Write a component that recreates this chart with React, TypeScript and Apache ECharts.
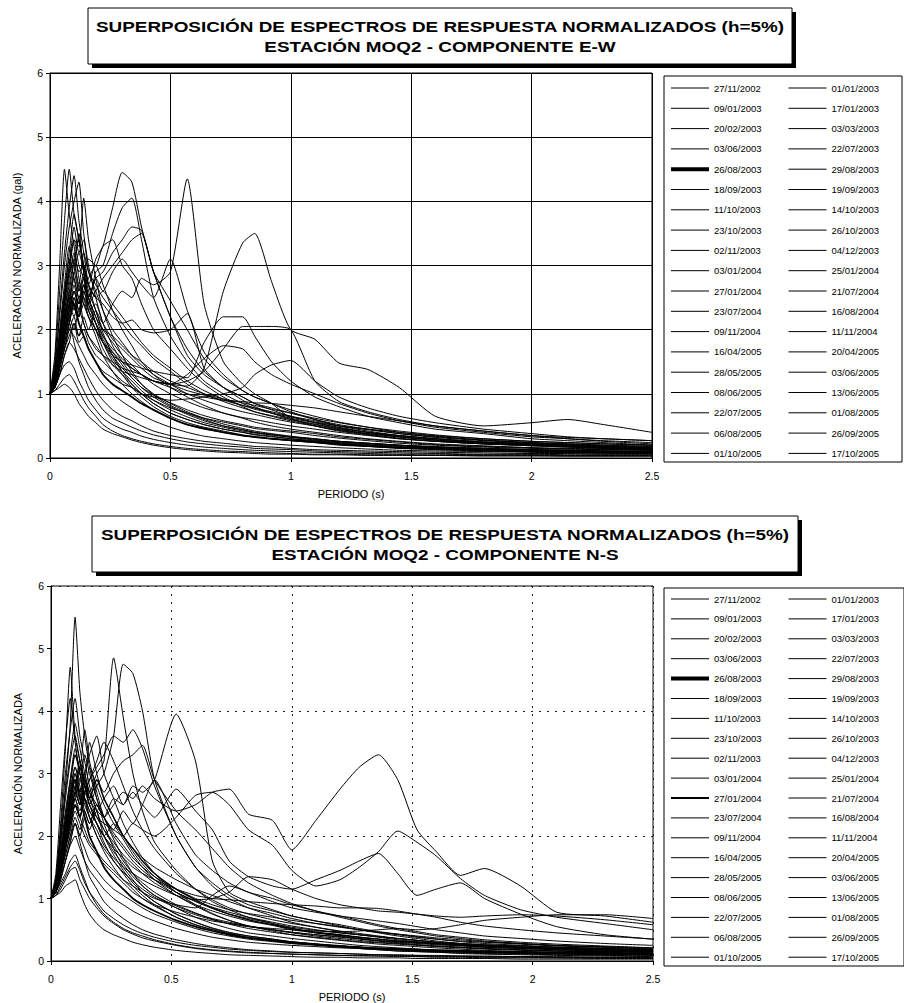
import React, { useEffect, useRef } from "react";
import * as echarts from "echarts";

const TITLE_LINE_1 = "SUPERPOSICIÓN DE ESPECTROS DE RESPUESTA NORMALIZADOS (h=5%)";
const TITLE_EW = "ESTACIÓN MOQ2 - COMPONENTE E-W";
const TITLE_NS = "ESTACIÓN MOQ2 - COMPONENTE N-S";
const X_NAME = "PERIODO (s)";
const Y_NAME_EW = "ACELERACIÓN NORMALIZADA (gal)";
const Y_NAME_NS = "ACELERACIÓN NORMALIZADA";
const X_TICKS = [0, 0.5, 1, 1.5, 2, 2.5];
const Y_TICKS = [0, 1, 2, 3, 4, 5, 6];

const DATES = [
  "27/11/2002", "01/01/2003", "09/01/2003", "17/01/2003", "20/02/2003", "03/03/2003",
  "03/06/2003", "22/07/2003", "26/08/2003", "29/08/2003", "18/09/2003", "19/09/2003",
  "11/10/2003", "14/10/2003", "23/10/2003", "26/10/2003", "02/11/2003", "04/12/2003",
  "03/01/2004", "25/01/2004", "27/01/2004", "21/07/2004", "23/07/2004", "16/08/2004",
  "09/11/2004", "11/11/2004", "16/04/2005", "20/04/2005", "28/05/2005", "03/06/2005",
  "08/06/2005", "13/06/2005", "22/07/2005", "01/08/2005", "06/08/2005", "26/09/2005",
  "01/10/2005", "17/10/2005",
];

// ---------- E-W component ----------
const PERIODS_EW = [0, 0.02, 0.04, 0.06, 0.08, 0.1, 0.12, 0.14, 0.16, 0.19, 0.22, 0.26, 0.3, 0.34, 0.38, 0.43, 0.5, 0.57, 0.64, 0.72, 0.8, 0.85, 0.92, 1.0, 1.1, 1.2, 1.32, 1.45, 1.6, 1.8, 2.0, 2.15, 2.3, 2.5];

const EW01 = [1, 1.3, 1.9, 2.4, 2.9, 3.1, 2.6, 2.8, 2.3, 2.0, 1.7, 1.45, 1.3, 1.1, 0.95, 0.8, 0.65, 0.55, 0.48, 0.42, 0.36, 0.33, 0.3, 0.27, 0.24, 0.2, 0.18, 0.15, 0.13, 0.11, 0.1, 0.09, 0.08, 0.07];
const EW02 = [1, 1.5, 2.6, 3.7, 4.5, 3.8, 3.4, 2.9, 2.5, 2.1, 1.8, 1.5, 1.3, 1.15, 1.0, 0.85, 0.7, 0.6, 0.52, 0.45, 0.4, 0.37, 0.34, 0.3, 0.27, 0.24, 0.21, 0.18, 0.16, 0.14, 0.12, 0.11, 0.1, 0.09];
const EW03 = [1, 1.2, 1.6, 1.9, 2.2, 2.6, 2.4, 2.8, 2.7, 3.1, 3.3, 3.9, 4.45, 4.3, 3.6, 2.9, 2.2, 1.7, 1.35, 1.1, 0.9, 0.8, 0.7, 0.62, 0.55, 0.48, 0.4, 0.35, 0.3, 0.25, 0.22, 0.2, 0.18, 0.16];
const EW04 = [1, 1.1, 1.4, 1.8, 2.1, 2.5, 2.2, 2.6, 2.4, 2.9, 3.0, 3.5, 3.9, 4.05, 3.4, 2.5, 1.9, 1.5, 1.2, 1.0, 0.85, 0.78, 0.7, 0.6, 0.52, 0.45, 0.38, 0.33, 0.28, 0.23, 0.2, 0.18, 0.16, 0.14];
const EW05 = [1, 1.1, 1.3, 1.6, 1.8, 2.1, 1.9, 2.2, 2.0, 2.3, 2.1, 2.4, 2.6, 2.5, 2.8, 2.7, 2.9, 4.35, 2.4, 1.5, 1.15, 1.0, 0.85, 0.62, 0.5, 0.42, 0.36, 0.3, 0.26, 0.22, 0.2, 0.18, 0.16, 0.15];
const EW06 = [1, 1.2, 1.6, 2.0, 2.4, 2.2, 2.5, 2.1, 1.9, 1.7, 1.6, 1.45, 1.35, 1.3, 1.25, 1.2, 1.15, 1.12, 1.4, 2.6, 3.35, 3.5, 2.75, 2.0, 1.85, 1.48, 1.38, 1.1, 0.65, 0.5, 0.55, 0.6, 0.52, 0.4];
const EW07 = [1, 1.2, 1.5, 1.9, 2.3, 2.6, 2.3, 2.7, 2.5, 2.8, 2.6, 2.9, 3.1, 2.9, 2.7, 2.5, 3.1, 2.3, 1.65, 1.3, 1.05, 0.95, 0.85, 0.72, 0.6, 0.5, 0.42, 0.35, 0.3, 0.25, 0.22, 0.2, 0.18, 0.16];
const EW08 = [1, 1.2, 1.7, 2.1, 2.6, 2.3, 2.7, 2.4, 2.2, 2.0, 1.8, 1.6, 1.5, 1.45, 1.4, 1.35, 1.3, 1.25, 1.8, 2.2, 2.2, 1.9, 1.5, 1.2, 0.95, 0.8, 0.65, 0.55, 0.45, 0.38, 0.3, 0.27, 0.24, 0.2];
const EW09 = [1, 1.2, 1.7, 2.2, 2.5, 2.4, 2.1, 1.9, 1.7, 1.5, 1.3, 1.15, 1.05, 0.95, 0.85, 0.75, 0.62, 0.52, 0.46, 0.4, 0.35, 0.33, 0.3, 0.28, 0.25, 0.22, 0.19, 0.16, 0.14, 0.12, 0.1, 0.09, 0.08, 0.08];
const EW10 = [1, 1.1, 1.4, 1.7, 1.9, 2.1, 1.8, 1.9, 1.7, 1.5, 1.35, 1.25, 1.15, 1.1, 1.0, 0.95, 0.9, 0.92, 0.95, 1.0, 1.1, 1.3, 1.45, 1.52, 1.2, 0.95, 0.78, 0.65, 0.55, 0.45, 0.38, 0.33, 0.3, 0.27];
const EW11 = [1, 1.2, 1.6, 2.0, 2.4, 2.8, 2.5, 2.6, 2.3, 2.1, 1.9, 1.7, 1.55, 1.4, 1.3, 1.2, 1.15, 1.3, 1.55, 1.75, 1.7, 1.5, 1.3, 1.15, 1.0, 0.85, 0.7, 0.58, 0.48, 0.4, 0.33, 0.3, 0.26, 0.22];
const EW12 = [1, 1.3, 1.8, 2.3, 2.8, 3.2, 2.9, 3.0, 2.7, 2.5, 2.4, 2.2, 2.1, 2.15, 2.0, 1.95, 2.0, 2.25, 1.4, 1.1, 0.95, 0.85, 0.75, 0.65, 0.55, 0.47, 0.4, 0.33, 0.28, 0.23, 0.2, 0.18, 0.16, 0.14];
const EW13 = [1, 1.2, 1.6, 1.9, 2.3, 2.6, 2.4, 2.7, 2.5, 2.8, 2.9, 3.2, 3.4, 3.6, 3.55, 2.9, 2.2, 1.6, 1.3, 1.1, 0.95, 0.85, 0.78, 0.7, 0.6, 0.52, 0.45, 0.38, 0.32, 0.27, 0.23, 0.21, 0.19, 0.17];
const EW14 = [1, 1.2, 1.7, 2.1, 2.5, 2.9, 2.6, 2.9, 3.1, 3.0, 3.3, 3.4, 3.0, 2.8, 2.4, 2.0, 1.7, 1.4, 1.15, 0.95, 0.8, 0.72, 0.65, 0.58, 0.5, 0.43, 0.37, 0.31, 0.26, 0.22, 0.19, 0.17, 0.15, 0.13];
const EW15 = [1, 1.15, 1.5, 1.8, 2.1, 2.4, 2.2, 2.5, 2.4, 2.6, 2.8, 3.0, 3.2, 3.4, 3.5, 2.9, 2.45, 2.0, 1.55, 1.25, 1.05, 0.95, 0.85, 0.75, 0.65, 0.56, 0.48, 0.4, 0.34, 0.28, 0.24, 0.22, 0.2, 0.18];
const EW16 = [1, 1.4, 2.2, 3.0, 3.6, 4.0, 4.3, 3.5, 3.0, 2.5, 2.1, 1.75, 1.5, 1.3, 1.15, 1.0, 0.85, 0.72, 0.62, 0.53, 0.46, 0.42, 0.38, 0.34, 0.3, 0.26, 0.23, 0.2, 0.17, 0.15, 0.13, 0.12, 0.11, 0.1];
const EW17 = [1, 1.3, 1.9, 2.5, 3.0, 3.4, 3.3, 4.05, 3.4, 2.8, 2.3, 1.9, 1.6, 1.35, 1.15, 0.98, 0.82, 0.7, 0.6, 0.5, 0.44, 0.4, 0.36, 0.32, 0.28, 0.25, 0.22, 0.19, 0.16, 0.14, 0.12, 0.11, 0.1, 0.09];
const EW18 = [1, 1.4, 2.3, 3.2, 3.9, 4.4, 3.7, 3.2, 2.7, 2.3, 1.95, 1.6, 1.35, 1.15, 1.0, 0.85, 0.7, 0.6, 0.52, 0.45, 0.4, 0.36, 0.33, 0.3, 0.26, 0.23, 0.2, 0.17, 0.15, 0.13, 0.11, 0.1, 0.09, 0.08];
const EW19 = [1, 1.05, 1.1, 1.15, 1.1, 1.0, 0.85, 0.75, 0.65, 0.55, 0.45, 0.38, 0.33, 0.28, 0.24, 0.2, 0.16, 0.13, 0.11, 0.09, 0.08, 0.07, 0.06, 0.06, 0.05, 0.05, 0.04, 0.04, 0.04, 0.03, 0.03, 0.03, 0.03, 0.03];
const EW20 = [1, 1.1, 1.3, 1.45, 1.5, 1.4, 1.2, 1.05, 0.9, 0.75, 0.62, 0.52, 0.45, 0.4, 0.34, 0.29, 0.24, 0.2, 0.17, 0.15, 0.13, 0.12, 0.11, 0.1, 0.09, 0.08, 0.07, 0.06, 0.06, 0.05, 0.05, 0.04, 0.04, 0.04];
const EW21 = [1, 1.15, 1.5, 1.9, 2.2, 2.0, 2.3, 2.1, 1.9, 1.75, 1.6, 1.5, 1.4, 1.35, 1.3, 1.2, 1.15, 1.2, 1.35, 1.7, 2.05, 2.05, 2.05, 2.0, 1.2, 0.88, 0.72, 0.6, 0.5, 0.42, 0.35, 0.3, 0.27, 0.24];
const EW22 = [1, 1.2, 1.5, 1.9, 2.1, 1.8, 1.5, 1.3, 1.1, 0.9, 0.75, 0.62, 0.55, 0.48, 0.42, 0.36, 0.3, 0.25, 0.22, 0.19, 0.17, 0.15, 0.14, 0.13, 0.11, 0.1, 0.09, 0.08, 0.07, 0.06, 0.06, 0.05, 0.05, 0.05];
const EW23 = [1, 1.3, 2.0, 2.7, 3.3, 3.0, 3.5, 2.9, 2.5, 2.2, 1.9, 1.65, 1.45, 1.25, 1.1, 0.95, 0.8, 0.68, 0.58, 0.5, 0.44, 0.4, 0.37, 0.33, 0.3, 0.26, 0.23, 0.2, 0.18, 0.15, 0.13, 0.12, 0.11, 0.1];
const EW24 = [1, 1.2, 1.5, 1.9, 2.2, 2.5, 2.3, 2.6, 2.8, 3.0, 2.7, 2.3, 2.0, 1.75, 1.5, 1.3, 1.1, 0.95, 0.82, 0.7, 0.62, 0.56, 0.5, 0.45, 0.4, 0.35, 0.3, 0.26, 0.22, 0.19, 0.16, 0.15, 0.14, 0.12];
const EW25 = [1, 1.2, 1.6, 2.0, 2.3, 2.7, 2.4, 2.5, 2.3, 2.4, 2.1, 1.85, 1.7, 1.55, 1.4, 1.25, 1.15, 1.05, 0.98, 0.9, 0.82, 0.78, 0.72, 0.65, 0.58, 0.5, 0.45, 0.4, 0.35, 0.3, 0.26, 0.24, 0.22, 0.2];
const EW26 = [1, 1.3, 1.8, 2.5, 3.0, 3.6, 3.2, 3.4, 2.9, 2.6, 2.3, 2.0, 1.8, 1.6, 1.45, 1.3, 1.15, 1.0, 0.9, 0.8, 0.72, 0.68, 0.62, 0.56, 0.5, 0.44, 0.38, 0.33, 0.28, 0.24, 0.21, 0.19, 0.17, 0.15];
const EW27 = [1, 1.1, 1.4, 1.7, 2.0, 2.2, 1.9, 2.0, 1.8, 1.6, 1.5, 1.35, 1.2, 1.1, 1.0, 0.9, 0.78, 0.7, 0.62, 0.56, 0.5, 0.46, 0.43, 0.4, 0.35, 0.31, 0.27, 0.23, 0.2, 0.17, 0.15, 0.14, 0.13, 0.12];
const EW28 = [1, 1.6, 3.0, 4.5, 3.8, 3.3, 2.8, 2.5, 2.2, 1.9, 1.6, 1.35, 1.15, 1.0, 0.88, 0.75, 0.62, 0.52, 0.45, 0.4, 0.35, 0.32, 0.3, 0.27, 0.24, 0.21, 0.18, 0.16, 0.14, 0.12, 0.1, 0.09, 0.09, 0.08];
const EW29 = [1, 1.2, 1.7, 2.3, 2.7, 3.1, 3.4, 3.0, 2.6, 2.3, 2.0, 1.8, 1.6, 1.45, 1.3, 1.15, 1.0, 0.88, 0.78, 0.7, 0.63, 0.6, 0.55, 0.5, 0.45, 0.4, 0.35, 0.3, 0.26, 0.22, 0.19, 0.17, 0.15, 0.14];
const EW30 = [1, 1.1, 1.3, 1.6, 1.8, 1.7, 1.55, 1.4, 1.25, 1.05, 0.9, 0.75, 0.65, 0.58, 0.5, 0.42, 0.35, 0.3, 0.26, 0.23, 0.2, 0.18, 0.17, 0.15, 0.13, 0.12, 0.11, 0.1, 0.09, 0.08, 0.07, 0.07, 0.06, 0.06];
const EW31 = [1, 1.2, 1.6, 2.1, 2.6, 3.0, 2.7, 3.2, 2.9, 2.7, 2.5, 2.3, 2.1, 1.9, 1.75, 1.55, 1.35, 1.15, 1.0, 0.88, 0.78, 0.72, 0.66, 0.6, 0.53, 0.46, 0.4, 0.35, 0.3, 0.25, 0.22, 0.2, 0.18, 0.16];
const EW32 = [1, 1.3, 1.9, 2.6, 3.2, 3.8, 3.4, 3.0, 2.7, 2.5, 2.6, 2.4, 2.2, 2.0, 1.8, 1.6, 1.4, 1.2, 1.05, 0.92, 0.82, 0.76, 0.7, 0.64, 0.56, 0.5, 0.44, 0.38, 0.33, 0.28, 0.24, 0.22, 0.2, 0.18];
const EW33 = [1, 1.15, 1.4, 1.7, 2.0, 1.9, 1.75, 1.6, 1.45, 1.3, 1.15, 1.0, 0.88, 0.78, 0.68, 0.58, 0.48, 0.4, 0.34, 0.3, 0.26, 0.24, 0.22, 0.2, 0.18, 0.16, 0.14, 0.12, 0.11, 0.1, 0.09, 0.08, 0.08, 0.07];
const EW34 = [1, 1.2, 1.6, 2.0, 2.4, 2.9, 3.2, 2.9, 2.5, 2.2, 2.0, 1.9, 1.75, 1.6, 1.5, 1.35, 1.2, 1.1, 1.0, 0.92, 0.86, 0.82, 0.76, 0.7, 0.62, 0.55, 0.48, 0.42, 0.36, 0.3, 0.26, 0.24, 0.22, 0.2];
const EW35 = [1, 1.25, 1.8, 2.4, 2.9, 3.4, 3.0, 2.8, 2.4, 2.1, 1.85, 1.6, 1.4, 1.25, 1.1, 0.98, 0.86, 0.75, 0.66, 0.58, 0.52, 0.48, 0.45, 0.42, 0.38, 0.33, 0.29, 0.25, 0.21, 0.18, 0.16, 0.14, 0.13, 0.12];
const EW36 = [1, 1.1, 1.4, 1.8, 2.1, 2.4, 2.2, 2.4, 2.2, 2.0, 1.8, 1.65, 1.5, 1.4, 1.3, 1.2, 1.1, 1.0, 0.95, 0.9, 0.88, 0.86, 0.85, 0.82, 0.78, 0.72, 0.65, 0.58, 0.5, 0.42, 0.35, 0.32, 0.3, 0.27];
const EW37 = [1, 1.3, 1.9, 2.5, 3.1, 2.8, 2.5, 2.7, 2.4, 2.1, 1.8, 1.55, 1.35, 1.2, 1.05, 0.9, 0.75, 0.64, 0.55, 0.48, 0.42, 0.39, 0.36, 0.33, 0.29, 0.26, 0.23, 0.2, 0.17, 0.15, 0.13, 0.12, 0.11, 0.1];
const EW38 = [1, 1.05, 1.15, 1.25, 1.3, 1.2, 1.05, 0.9, 0.78, 0.65, 0.52, 0.42, 0.35, 0.3, 0.26, 0.22, 0.18, 0.15, 0.13, 0.11, 0.1, 0.09, 0.08, 0.07, 0.06, 0.06, 0.05, 0.05, 0.04, 0.04, 0.04, 0.03, 0.03, 0.03];

const EW_SERIES = [EW01, EW02, EW03, EW04, EW05, EW06, EW07, EW08, EW09, EW10, EW11, EW12, EW13, EW14, EW15, EW16, EW17, EW18, EW19, EW20, EW21, EW22, EW23, EW24, EW25, EW26, EW27, EW28, EW29, EW30, EW31, EW32, EW33, EW34, EW35, EW36, EW37, EW38];

// ---------- N-S component ----------
const PERIODS_NS = [0, 0.02, 0.04, 0.06, 0.08, 0.1, 0.12, 0.14, 0.16, 0.19, 0.22, 0.26, 0.3, 0.34, 0.38, 0.43, 0.52, 0.6, 0.67, 0.74, 0.82, 0.92, 1.0, 1.1, 1.2, 1.28, 1.36, 1.44, 1.52, 1.6, 1.7, 1.8, 1.95, 2.1, 2.3, 2.5];

const NS01 = [1, 1.2, 1.9, 2.8, 3.8, 5.5, 4.3, 3.6, 3.1, 2.6, 2.2, 1.8, 1.5, 1.3, 1.1, 0.95, 0.75, 0.62, 0.52, 0.45, 0.4, 0.35, 0.3, 0.26, 0.23, 0.2, 0.18, 0.16, 0.15, 0.14, 0.13, 0.12, 0.11, 0.1, 0.09, 0.08];
const NS02 = [1, 1.1, 1.5, 1.9, 2.3, 2.7, 2.5, 2.9, 2.7, 3.0, 3.2, 4.85, 3.9, 3.0, 2.4, 1.9, 1.45, 1.15, 0.95, 0.82, 0.7, 0.6, 0.52, 0.45, 0.4, 0.36, 0.32, 0.29, 0.26, 0.24, 0.22, 0.2, 0.18, 0.16, 0.14, 0.12];
const NS03 = [1, 1.1, 1.4, 1.8, 2.1, 2.5, 2.3, 2.6, 2.5, 2.8, 3.0, 3.6, 4.75, 4.6, 4.0, 2.9, 2.0, 1.5, 1.2, 1.0, 0.85, 0.72, 0.62, 0.54, 0.47, 0.42, 0.38, 0.34, 0.31, 0.28, 0.25, 0.22, 0.2, 0.18, 0.16, 0.14];
const NS04 = [1, 1.3, 2.2, 3.4, 4.7, 3.6, 3.2, 2.8, 2.5, 2.2, 1.9, 1.6, 1.4, 1.2, 1.05, 0.9, 0.7, 0.58, 0.5, 0.43, 0.37, 0.32, 0.28, 0.25, 0.22, 0.2, 0.18, 0.16, 0.15, 0.14, 0.12, 0.11, 0.1, 0.09, 0.08, 0.07];
const NS05 = [1, 1.1, 1.4, 1.7, 2.0, 2.3, 2.1, 2.4, 2.2, 2.5, 2.3, 2.6, 2.5, 2.8, 2.7, 2.9, 3.95, 3.2, 1.6, 1.1, 0.95, 0.82, 0.72, 0.64, 0.56, 0.5, 0.45, 0.4, 0.36, 0.32, 0.28, 0.25, 0.22, 0.2, 0.18, 0.16];
const NS06 = [1, 1.1, 1.3, 1.6, 1.9, 2.2, 2.0, 2.3, 2.1, 2.4, 2.3, 2.5, 2.7, 2.6, 2.8, 2.6, 2.4, 2.5, 2.7, 2.75, 2.35, 2.25, 1.78, 2.25, 2.75, 3.1, 3.3, 2.9, 2.1, 1.75, 1.37, 1.48, 1.2, 0.78, 0.72, 0.62];
const NS07 = [1, 1.15, 1.5, 1.9, 2.3, 2.6, 2.4, 2.7, 2.5, 2.3, 2.2, 2.1, 2.0, 2.2, 2.1, 2.0, 2.3, 2.65, 2.7, 2.5, 2.1, 1.85, 1.45, 1.2, 1.3, 1.5, 1.75, 2.08, 1.9, 1.68, 1.32, 1.05, 0.82, 0.7, 0.6, 0.5];
const NS08 = [1, 1.2, 1.6, 2.1, 2.6, 3.0, 2.7, 2.9, 2.6, 2.4, 2.6, 2.8, 2.5, 2.7, 2.5, 2.3, 2.75, 2.4, 2.1, 1.6, 1.35, 1.2, 1.15, 1.3, 1.45, 1.6, 1.72, 1.4, 1.05, 1.15, 1.25, 1.0, 0.75, 0.55, 0.42, 0.35];
const NS09 = [1, 1.15, 1.6, 2.1, 2.6, 2.9, 2.6, 2.3, 2.0, 1.75, 1.5, 1.3, 1.15, 1.0, 0.9, 0.8, 0.65, 0.55, 0.48, 0.42, 0.37, 0.33, 0.3, 0.27, 0.24, 0.22, 0.2, 0.19, 0.18, 0.17, 0.16, 0.15, 0.14, 0.13, 0.12, 0.11];
const NS10 = [1, 1.15, 1.5, 1.9, 2.3, 2.7, 2.5, 2.8, 2.6, 2.9, 2.7, 3.0, 3.2, 3.3, 3.45, 2.9, 2.4, 2.1, 1.8, 1.5, 1.25, 1.05, 0.92, 0.8, 0.7, 0.63, 0.56, 0.5, 0.45, 0.4, 0.36, 0.32, 0.28, 0.25, 0.22, 0.19];
const NS11 = [1, 1.2, 1.6, 2.1, 2.5, 2.9, 2.6, 2.9, 2.7, 2.5, 2.3, 2.1, 2.4, 2.2, 2.5, 2.9, 2.2, 1.7, 1.45, 1.25, 1.1, 1.0, 0.9, 0.8, 0.72, 0.65, 0.58, 0.52, 0.47, 0.42, 0.38, 0.34, 0.3, 0.27, 0.24, 0.21];
const NS12 = [1, 1.2, 1.7, 2.2, 2.7, 3.1, 2.8, 2.5, 2.3, 2.1, 1.85, 1.65, 1.5, 1.4, 1.3, 1.2, 1.05, 0.98, 1.0, 1.1, 1.35, 1.3, 1.15, 1.0, 0.9, 0.85, 0.8, 0.78, 0.75, 0.72, 0.7, 0.72, 0.74, 0.72, 0.66, 0.58];
const NS13 = [1, 1.15, 1.5, 1.9, 2.2, 2.5, 2.3, 2.6, 2.4, 2.2, 2.0, 1.8, 1.65, 1.5, 1.4, 1.3, 1.15, 1.05, 1.0, 0.98, 0.95, 0.92, 0.9, 0.88, 0.85, 0.85, 0.84, 0.8, 0.75, 0.7, 0.62, 0.56, 0.5, 0.45, 0.4, 0.35];
const NS14 = [1, 1.1, 1.4, 1.8, 2.1, 2.4, 2.2, 2.0, 1.85, 1.7, 1.55, 1.4, 1.25, 1.1, 1.0, 0.9, 0.78, 0.7, 0.64, 0.6, 0.55, 0.52, 0.5, 0.48, 0.47, 0.48, 0.5, 0.52, 0.5, 0.52, 0.58, 0.65, 0.7, 0.74, 0.74, 0.68];
const NS15 = [1, 1.3, 2.1, 3.0, 3.7, 4.2, 3.6, 3.2, 2.8, 2.4, 2.0, 1.7, 1.45, 1.25, 1.1, 0.95, 0.75, 0.62, 0.53, 0.46, 0.4, 0.35, 0.31, 0.27, 0.24, 0.22, 0.2, 0.18, 0.16, 0.15, 0.14, 0.13, 0.12, 0.11, 0.1, 0.09];
const NS16 = [1, 1.2, 1.8, 2.4, 2.9, 3.3, 3.1, 3.7, 3.2, 2.7, 2.3, 1.95, 1.65, 1.4, 1.2, 1.05, 0.85, 0.7, 0.6, 0.52, 0.45, 0.4, 0.36, 0.32, 0.28, 0.25, 0.23, 0.21, 0.19, 0.17, 0.15, 0.14, 0.13, 0.12, 0.11, 0.1];
const NS17 = [1, 1.2, 1.6, 2.1, 2.5, 2.9, 2.7, 3.0, 3.3, 3.6, 3.0, 2.6, 2.2, 1.9, 1.65, 1.4, 1.1, 0.9, 0.76, 0.65, 0.56, 0.48, 0.42, 0.37, 0.33, 0.3, 0.27, 0.25, 0.23, 0.21, 0.19, 0.17, 0.15, 0.14, 0.13, 0.12];
const NS18 = [1, 1.05, 1.1, 1.2, 1.25, 1.3, 1.1, 0.9, 0.75, 0.6, 0.5, 0.42, 0.36, 0.3, 0.26, 0.22, 0.17, 0.14, 0.12, 0.1, 0.09, 0.08, 0.07, 0.06, 0.06, 0.05, 0.05, 0.05, 0.04, 0.04, 0.04, 0.04, 0.03, 0.03, 0.03, 0.03];
const NS19 = [1, 1.1, 1.25, 1.4, 1.6, 1.7, 1.5, 1.3, 1.1, 0.9, 0.75, 0.62, 0.52, 0.45, 0.4, 0.34, 0.26, 0.21, 0.18, 0.16, 0.14, 0.12, 0.11, 0.1, 0.09, 0.08, 0.08, 0.07, 0.07, 0.06, 0.06, 0.05, 0.05, 0.05, 0.04, 0.04];
const NS20 = [1, 1.1, 1.4, 1.8, 2.2, 2.5, 2.3, 2.7, 2.9, 3.1, 3.3, 3.6, 3.5, 3.7, 3.4, 2.8, 2.0, 1.5, 1.25, 1.05, 0.9, 0.8, 0.72, 0.64, 0.58, 0.52, 0.47, 0.43, 0.39, 0.35, 0.31, 0.28, 0.25, 0.22, 0.2, 0.18];
const NS21 = [1, 1.15, 1.5, 2.0, 2.4, 2.7, 3.1, 2.8, 2.6, 2.9, 2.6, 2.3, 2.0, 1.8, 1.6, 1.4, 1.15, 0.98, 0.85, 0.75, 0.66, 0.58, 0.52, 0.46, 0.42, 0.38, 0.35, 0.32, 0.3, 0.28, 0.26, 0.24, 0.22, 0.2, 0.18, 0.16];
const NS22 = [1, 1.2, 1.7, 2.3, 2.8, 3.3, 3.0, 2.7, 3.1, 2.8, 2.5, 2.2, 1.95, 1.7, 1.5, 1.3, 1.05, 0.88, 0.75, 0.65, 0.56, 0.5, 0.45, 0.4, 0.36, 0.33, 0.3, 0.28, 0.26, 0.24, 0.22, 0.2, 0.18, 0.16, 0.15, 0.13];
const NS23 = [1, 1.1, 1.4, 1.7, 2.0, 2.2, 1.9, 1.6, 1.35, 1.15, 0.95, 0.8, 0.68, 0.58, 0.5, 0.43, 0.34, 0.28, 0.24, 0.21, 0.18, 0.16, 0.14, 0.13, 0.12, 0.11, 0.1, 0.09, 0.09, 0.08, 0.08, 0.07, 0.07, 0.06, 0.06, 0.05];
const NS24 = [1, 1.2, 1.6, 2.0, 2.4, 2.8, 2.5, 2.7, 2.9, 3.2, 3.5, 3.2, 2.8, 2.4, 2.1, 1.8, 1.4, 1.15, 0.98, 0.85, 0.75, 0.66, 0.6, 0.54, 0.48, 0.44, 0.4, 0.36, 0.33, 0.3, 0.27, 0.25, 0.22, 0.2, 0.18, 0.16];
const NS25 = [1, 1.1, 1.3, 1.6, 1.9, 2.2, 2.0, 1.8, 1.6, 1.45, 1.3, 1.15, 1.05, 0.95, 0.85, 0.75, 0.62, 0.52, 0.45, 0.4, 0.35, 0.31, 0.28, 0.26, 0.24, 0.22, 0.21, 0.2, 0.19, 0.18, 0.17, 0.16, 0.15, 0.14, 0.13, 0.12];
const NS26 = [1, 1.25, 1.9, 2.6, 3.2, 3.6, 3.2, 2.9, 2.6, 2.3, 2.1, 1.9, 1.7, 1.55, 1.4, 1.25, 1.05, 0.9, 0.8, 0.72, 0.64, 0.57, 0.5, 0.45, 0.41, 0.38, 0.35, 0.32, 0.3, 0.28, 0.26, 0.24, 0.22, 0.2, 0.18, 0.16];
const NS27 = [1, 1.15, 1.5, 1.9, 2.3, 2.6, 2.3, 2.1, 1.9, 1.75, 1.6, 1.45, 1.3, 1.2, 1.1, 1.0, 0.9, 0.85, 1.05, 1.2, 1.1, 0.95, 0.85, 0.78, 0.72, 0.68, 0.64, 0.6, 0.55, 0.5, 0.45, 0.4, 0.36, 0.32, 0.28, 0.25];
const NS28 = [1, 1.2, 1.7, 2.3, 2.9, 3.4, 3.0, 2.8, 2.5, 2.2, 2.0, 1.75, 1.55, 1.35, 1.2, 1.05, 0.88, 0.76, 0.68, 0.62, 0.56, 0.5, 0.46, 0.42, 0.38, 0.35, 0.32, 0.3, 0.28, 0.26, 0.24, 0.22, 0.2, 0.18, 0.16, 0.15];
const NS29 = [1, 1.05, 1.2, 1.35, 1.5, 1.6, 1.45, 1.25, 1.1, 0.95, 0.8, 0.68, 0.58, 0.5, 0.44, 0.38, 0.3, 0.25, 0.22, 0.19, 0.17, 0.15, 0.14, 0.13, 0.12, 0.11, 0.1, 0.1, 0.09, 0.09, 0.08, 0.08, 0.07, 0.07, 0.06, 0.06];
const NS30 = [1, 1.15, 1.6, 2.2, 2.7, 3.1, 2.9, 3.3, 3.0, 2.6, 2.3, 2.0, 1.8, 1.6, 1.45, 1.3, 1.1, 0.96, 0.86, 0.78, 0.7, 0.62, 0.56, 0.5, 0.45, 0.42, 0.39, 0.36, 0.33, 0.3, 0.28, 0.26, 0.24, 0.22, 0.2, 0.18];
const NS31 = [1, 1.1, 1.4, 1.8, 2.2, 2.5, 2.3, 2.6, 2.4, 2.2, 2.0, 2.2, 2.0, 1.8, 1.65, 1.5, 1.3, 1.15, 1.05, 0.95, 0.85, 0.76, 0.68, 0.6, 0.54, 0.5, 0.46, 0.42, 0.38, 0.35, 0.32, 0.3, 0.27, 0.24, 0.22, 0.2];
const NS32 = [1, 1.4, 2.5, 3.5, 4.2, 3.5, 3.0, 2.6, 2.3, 2.0, 1.75, 1.5, 1.3, 1.15, 1.0, 0.88, 0.7, 0.58, 0.5, 0.44, 0.38, 0.33, 0.3, 0.27, 0.24, 0.22, 0.2, 0.18, 0.17, 0.16, 0.15, 0.14, 0.13, 0.12, 0.11, 0.1];
const NS33 = [1, 1.1, 1.35, 1.6, 1.85, 2.0, 1.8, 1.6, 1.45, 1.3, 1.15, 1.0, 0.9, 0.8, 0.72, 0.64, 0.52, 0.44, 0.38, 0.34, 0.3, 0.27, 0.25, 0.23, 0.21, 0.2, 0.19, 0.18, 0.17, 0.16, 0.15, 0.14, 0.13, 0.12, 0.11, 0.1];
const NS34 = [1, 1.2, 1.6, 2.1, 2.6, 3.0, 2.7, 2.4, 2.2, 2.5, 2.3, 2.05, 1.85, 1.65, 1.5, 1.35, 1.15, 1.0, 0.9, 0.82, 0.76, 0.7, 0.65, 0.6, 0.55, 0.5, 0.46, 0.43, 0.4, 0.37, 0.34, 0.31, 0.28, 0.25, 0.23, 0.21];
const NS35 = [1, 1.15, 1.5, 1.9, 2.3, 2.6, 2.9, 2.6, 2.3, 2.0, 1.8, 1.6, 1.42, 1.28, 1.15, 1.02, 0.85, 0.74, 0.66, 0.6, 0.55, 0.5, 0.46, 0.42, 0.39, 0.36, 0.33, 0.31, 0.29, 0.27, 0.25, 0.23, 0.21, 0.19, 0.17, 0.15];
const NS36 = [1, 1.3, 2.0, 2.7, 3.3, 3.8, 3.4, 3.0, 2.7, 2.4, 2.1, 1.85, 1.6, 1.4, 1.25, 1.1, 0.9, 0.77, 0.67, 0.59, 0.52, 0.46, 0.42, 0.38, 0.34, 0.31, 0.29, 0.27, 0.25, 0.23, 0.21, 0.19, 0.17, 0.16, 0.15, 0.14];
const NS37 = [1, 1.05, 1.15, 1.3, 1.45, 1.5, 1.3, 1.15, 1.0, 0.85, 0.72, 0.6, 0.5, 0.43, 0.37, 0.32, 0.25, 0.2, 0.17, 0.15, 0.13, 0.12, 0.11, 0.1, 0.09, 0.09, 0.08, 0.08, 0.07, 0.07, 0.07, 0.06, 0.06, 0.05, 0.05, 0.05];
const NS38 = [1, 1.2, 1.6, 2.0, 2.5, 2.8, 3.2, 2.9, 3.5, 3.0, 2.6, 2.3, 2.0, 1.75, 1.55, 1.35, 1.1, 0.95, 0.84, 0.75, 0.68, 0.6, 0.54, 0.49, 0.45, 0.42, 0.39, 0.36, 0.33, 0.3, 0.28, 0.26, 0.24, 0.22, 0.2, 0.18];

const NS_SERIES = [NS01, NS02, NS03, NS04, NS05, NS06, NS07, NS08, NS09, NS10, NS11, NS12, NS13, NS14, NS15, NS16, NS17, NS18, NS19, NS20, NS21, NS22, NS23, NS24, NS25, NS26, NS27, NS28, NS29, NS30, NS31, NS32, NS33, NS34, NS35, NS36, NS37, NS38];

const THICK_EW: Record<string, number> = { "26/08/2003": 1.8 };
const THICK_NS: Record<string, number> = { "26/08/2003": 1.8, "27/01/2004": 1.4 };
const LEGEND_ICON_EW: Record<string, number> = { "26/08/2003": 4 };
const LEGEND_ICON_NS: Record<string, number> = { "26/08/2003": 4, "27/01/2004": 2 };

const FONT = "'Liberation Sans', Arial, sans-serif";

function buildOption() {
  const P1 = { left: 50, top: 73, width: 602, height: 385 };
  const P2 = { left: 51, top: 586, width: 602, height: 377 };

  const lineSeries = (periods: number[], values: number[][], thick: Record<string, number>, xi: number, yi: number) =>
    values.map((vals, i) => ({
      type: "line",
      name: DATES[i],
      xAxisIndex: xi,
      yAxisIndex: yi,
      data: periods.map((t, k) => [t, vals[k]]),
      symbol: "none",
      showSymbol: false,
      smooth: 0.2,
      silent: true,
      lineStyle: { color: "#000", width: thick[DATES[i]] || 1 },
      itemStyle: { color: "#000" },
      emphasis: { disabled: true },
      z: 3,
    }));

  const legendCol = (names: string[], left: number, top: number, gap: number, icon: Record<string, number>) => ({
    orient: "vertical",
    left,
    top,
    padding: 0,
    itemWidth: 38,
    itemHeight: 4,
    itemGap: gap,
    selectedMode: false,
    itemStyle: { opacity: 0 },
    lineStyle: { width: "inherit", color: "#000" },
    textStyle: { color: "#000", fontSize: 9.5, fontFamily: FONT, lineHeight: 10 },
    data: names.map((n) => (icon[n] ? { name: n, lineStyle: { width: icon[n], color: "#000" } } : { name: n })),
  });

  const leftNames = DATES.filter((_, i) => i % 2 === 0);
  const rightNames = DATES.filter((_, i) => i % 2 === 1);

  const xAxisBase = (gridIndex: number, dotted: boolean) => ({
    type: "value",
    gridIndex,
    min: X_TICKS[0],
    max: X_TICKS[X_TICKS.length - 1],
    interval: 0.5,
    name: X_NAME,
    nameLocation: "middle",
    nameGap: 30,
    nameTextStyle: { color: "#000", fontSize: 11, fontFamily: FONT },
    axisLine: { show: true, onZero: false, lineStyle: { color: "#000", width: 1 } },
    axisTick: { show: true, length: 4, lineStyle: { color: "#000" } },
    axisLabel: { color: "#000", fontSize: 10.5, fontFamily: FONT, margin: 12 },
    splitLine: dotted
      ? { show: true, lineStyle: { color: "#222", width: 1, type: [2, 6] } }
      : { show: true, lineStyle: { color: "#000", width: 1 } },
  });

  const yAxisBase = (gridIndex: number, name: string, splitShow: boolean) => ({
    type: "value",
    gridIndex,
    min: Y_TICKS[0],
    max: Y_TICKS[Y_TICKS.length - 1],
    interval: 1,
    name,
    nameLocation: "middle",
    nameGap: 28,
    nameRotate: 90,
    nameTextStyle: { color: "#000", fontSize: 11, fontFamily: FONT },
    axisLine: { show: true, onZero: false, lineStyle: { color: "#000", width: 1 } },
    axisTick: { show: true, length: 4, lineStyle: { color: "#000" } },
    axisLabel: { color: "#000", fontSize: 10.5, fontFamily: FONT, margin: 7 },
    splitLine: { show: splitShow, lineStyle: { color: "#000", width: 1 } },
  });

  const titleBox = (x: number, y: number, w: number, h: number, line2: string) => [
    { type: "rect", shape: { x: x + 4, y: y + 4, width: w, height: h }, style: { fill: "#000" }, z: 10 },
    { type: "rect", shape: { x, y, width: w, height: h }, style: { fill: "#fff", stroke: "#000", lineWidth: 1 }, z: 11 },
    {
      type: "text", x: x + w / 2, y: y + 19, scaleX: 1.35, z: 12,
      style: { text: TITLE_LINE_1, fill: "#000", font: `bold 14px ${FONT}`, textAlign: "center", textVerticalAlign: "middle" },
    },
    {
      type: "text", x: x + w / 2, y: y + 39, scaleX: 1.35, z: 12,
      style: { text: line2, fill: "#000", font: `bold 14px ${FONT}`, textAlign: "center", textVerticalAlign: "middle" },
    },
  ];

  return {
    animation: false,
    backgroundColor: "#fff",
    grid: [
      { ...P1, show: true, borderColor: "#000", borderWidth: 1, backgroundColor: "transparent", containLabel: false },
      { ...P2, show: true, borderColor: "#000", borderWidth: 1, backgroundColor: "transparent", containLabel: false },
    ],
    xAxis: [xAxisBase(0, false), xAxisBase(1, true)],
    yAxis: [
      yAxisBase(0, Y_NAME_EW, true),
      yAxisBase(1, Y_NAME_NS, false),
      {
        type: "value", gridIndex: 1, min: 0, max: 6, interval: 2,
        axisLine: { show: false }, axisTick: { show: false }, axisLabel: { show: false },
        splitLine: { show: true, lineStyle: { color: "#222", width: 1, type: [2, 6] } },
      },
    ],
    legend: [
      legendCol(leftNames, 669, 83, 10.3, LEGEND_ICON_EW),
      legendCol(rightNames, 788, 83, 10.3, LEGEND_ICON_EW),
      legendCol(leftNames, 669, 594, 9.9, LEGEND_ICON_NS),
      legendCol(rightNames, 788, 594, 9.9, LEGEND_ICON_NS),
    ],
    graphic: [
      ...titleBox(88, 8, 704, 56, TITLE_EW),
      ...titleBox(92, 516, 706, 56, TITLE_NS),
      { type: "rect", shape: { x: 664, y: 76, width: 238, height: 386 }, style: { fill: "none", stroke: "#000", lineWidth: 1 }, z: 1 },
      { type: "rect", shape: { x: 664, y: 588, width: 240, height: 378 }, style: { fill: "none", stroke: "#000", lineWidth: 1 }, z: 1 },
    ],
    series: [
      ...lineSeries(PERIODS_EW, EW_SERIES, THICK_EW, 0, 0),
      ...lineSeries(PERIODS_NS, NS_SERIES, THICK_NS, 1, 1),
    ],
  };
}

export default function App() {
  const ref = useRef<HTMLDivElement>(null);
  useEffect(() => {
    if (!ref.current) return;
    const chart = echarts.init(ref.current, null, { renderer: "svg" });
    chart.setOption(buildOption() as any);
    return () => chart.dispose();
  }, []);
  return (
    <div
      ref={ref}
      style={{ position: "absolute", left: 0, top: 0, width: 904, height: 1003, background: "#fff" }}
    />
  );
}
